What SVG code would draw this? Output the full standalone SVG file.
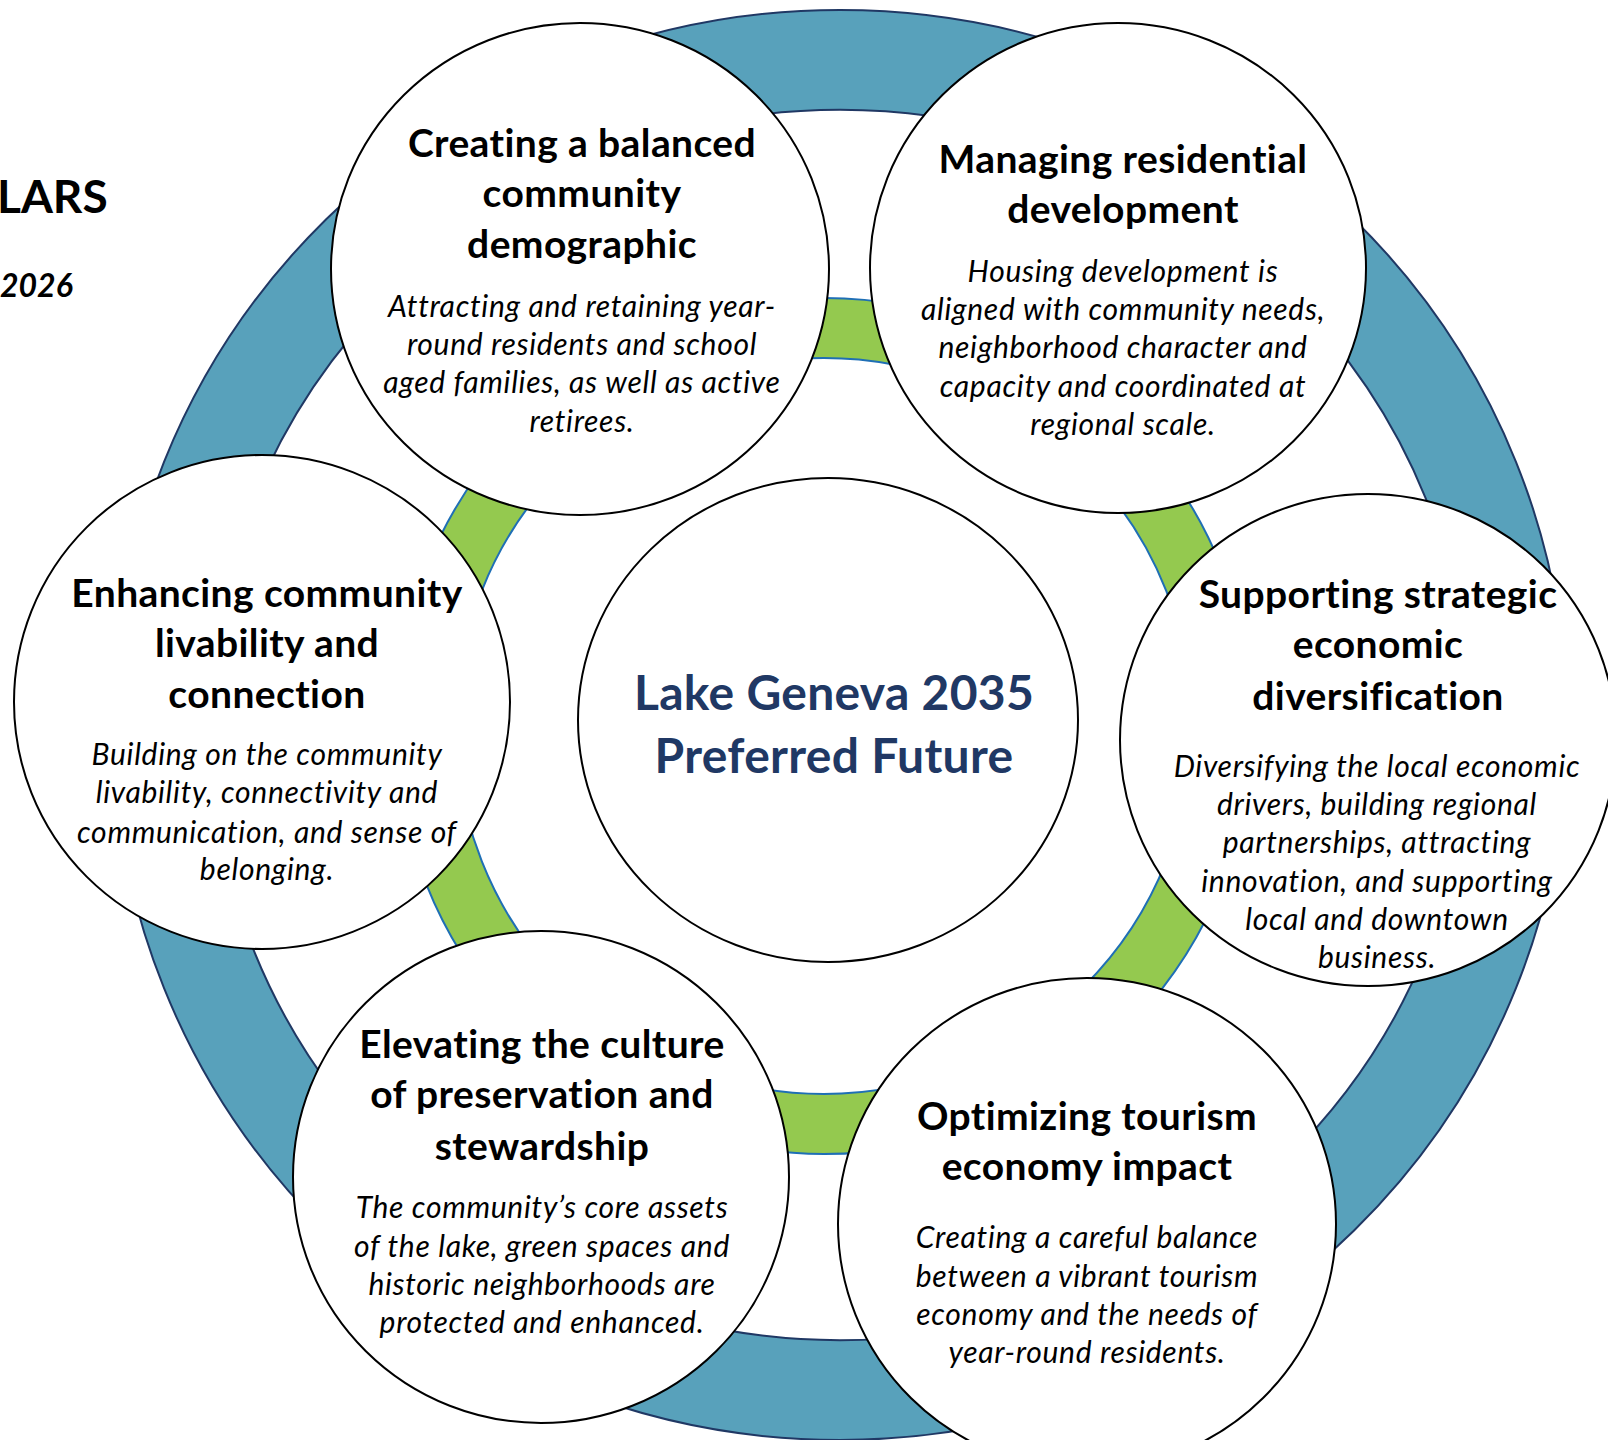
<svg xmlns="http://www.w3.org/2000/svg" width="1608" height="1440" viewBox="0 0 1608 1440">
<style>
.node{fill:#ffffff;stroke:#000000;stroke-width:2}
.t{font-family:Lato,"Liberation Sans",sans-serif;font-weight:bold;font-size:39px;letter-spacing:0.4px;fill:#000;text-anchor:middle}
.d{font-family:Lato,"Liberation Sans",sans-serif;font-style:italic;font-size:30px;letter-spacing:0.7px;fill:#000;text-anchor:middle}
.c{font-family:Lato,"Liberation Sans",sans-serif;font-weight:bold;font-size:48px;letter-spacing:0.3px;fill:#203864;text-anchor:middle}
.blue{fill:#58A1BB;stroke:#203864;stroke-width:2;fill-rule:evenodd}
.green{fill:#94C94F;stroke:#1F6FB5;stroke-width:2;fill-rule:evenodd}
</style>
<rect width="1608" height="1440" fill="#ffffff"/>
<text x="-3" y="213" style="font-family:Lato,'Liberation Sans',sans-serif;font-weight:bold;font-size:46px;fill:#000">LARS</text>
<text x="0" y="297" style="font-family:Lato,'Liberation Sans',sans-serif;font-weight:bold;font-style:italic;font-size:32px;fill:#000">2026</text>
<g id="connectors">
<path class="blue" d="M113,725 a727,715 0 1,0 1454,0 a727,715 0 1,0 -1454,0 Z M210,725 a630,615 0 1,0 1260,0 a630,615 0 1,0 -1260,0 Z"/>
<path class="green" d="M396,726 a428,428 0 1,0 856,0 a428,428 0 1,0 -856,0 Z M456,726 a368,368 0 1,0 736,0 a368,368 0 1,0 -736,0 Z"/>
</g>
<g id="center">
<ellipse class="node" cx="828" cy="720" rx="250" ry="242"/>
<text class="c" x="834" y="710">Lake Geneva 2035</text>
<text class="c" x="834" y="773">Preferred Future</text>
</g>
<g id="node-demographic">
<ellipse class="node" cx="580" cy="269" rx="249" ry="246"/>
<text class="t" x="582" y="157">Creating a balanced</text>
<text class="t" x="582" y="207">community</text>
<text class="t" x="582" y="258">demographic</text>
<text class="d" x="582" y="317">Attracting and retaining year-</text>
<text class="d" x="582" y="355">round residents and school</text>
<text class="d" x="582" y="393">aged families, as well as active</text>
<text class="d" x="582" y="432">retirees.</text>
</g>
<g id="node-residential">
<ellipse class="node" cx="1118" cy="268" rx="248" ry="245"/>
<text class="t" x="1123" y="173">Managing residential</text>
<text class="t" x="1123" y="223">development</text>
<text class="d" x="1123" y="282">Housing development is</text>
<text class="d" x="1123" y="320">aligned with community needs,</text>
<text class="d" x="1123" y="358">neighborhood character and</text>
<text class="d" x="1123" y="397">capacity and coordinated at</text>
<text class="d" x="1123" y="435">regional scale.</text>
</g>
<g id="node-economic">
<ellipse class="node" cx="1368" cy="740" rx="248" ry="246"/>
<text class="t" x="1378" y="608">Supporting strategic</text>
<text class="t" x="1378" y="658">economic</text>
<text class="t" x="1378" y="710">diversification</text>
<text class="d" x="1377" y="777">Diversifying the local economic</text>
<text class="d" x="1377" y="815">drivers, building regional</text>
<text class="d" x="1377" y="853">partnerships, attracting</text>
<text class="d" x="1377" y="892">innovation, and supporting</text>
<text class="d" x="1377" y="930">local and downtown</text>
<text class="d" x="1377" y="968">business.</text>
</g>
<g id="node-tourism">
<ellipse class="node" cx="1087" cy="1224" rx="249" ry="246"/>
<text class="t" x="1087" y="1130">Optimizing tourism</text>
<text class="t" x="1087" y="1180">economy impact</text>
<text class="d" x="1087" y="1248">Creating a careful balance</text>
<text class="d" x="1087" y="1287">between a vibrant tourism</text>
<text class="d" x="1087" y="1325">economy and the needs of</text>
<text class="d" x="1087" y="1363">year-round residents.</text>
</g>
<g id="node-preservation">
<ellipse class="node" cx="541" cy="1177" rx="248" ry="246"/>
<text class="t" x="542" y="1058">Elevating the culture</text>
<text class="t" x="542" y="1108">of preservation and</text>
<text class="t" x="542" y="1160">stewardship</text>
<text class="d" x="542" y="1218">The community’s core assets</text>
<text class="d" x="542" y="1257">of the lake, green spaces and</text>
<text class="d" x="542" y="1295">historic neighborhoods are</text>
<text class="d" x="542" y="1333">protected and enhanced.</text>
</g>
<g id="node-livability">
<ellipse class="node" cx="262" cy="702" rx="248" ry="247"/>
<text class="t" x="267" y="607">Enhancing community</text>
<text class="t" x="267" y="657">livability and</text>
<text class="t" x="267" y="708">connection</text>
<text class="d" x="267" y="765">Building on the community</text>
<text class="d" x="267" y="803">livability, connectivity and</text>
<text class="d" x="267" y="843">communication, and sense of</text>
<text class="d" x="267" y="880">belonging.</text>
</g>
</svg>
